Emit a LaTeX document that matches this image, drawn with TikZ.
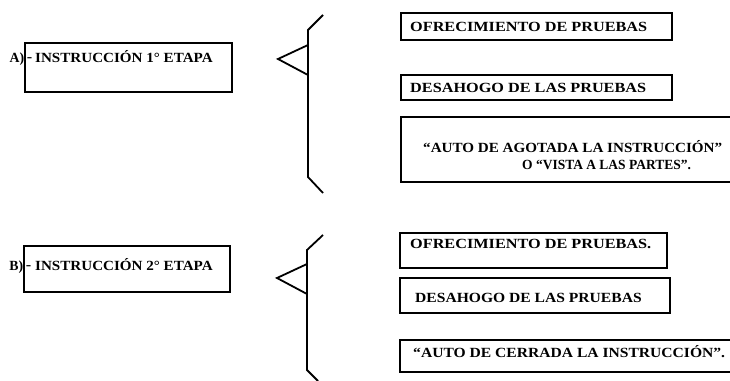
\documentclass[tikz,border=0pt]{standalone}
\usepackage{fontspec}
\setmainfont{Liberation Serif}[FakeStretch=1.16]
\newcommand{\sxx}[2]{\scalebox{#1}[1]{#2}}
\begin{document}
\begin{tikzpicture}[x=1pt,y=-1pt,
  box/.style={draw,line width=1.3pt},
  brk/.style={draw,line width=1.8pt,line join=miter},
  txt/.style={inner sep=0pt,anchor=west,font=\fontsize{14}{16}\selectfont\bfseries},
  lbl/.style={inner sep=0pt,anchor=east,font=\fontsize{14}{16}\selectfont\bfseries},
  dsh/.style={inner sep=0pt,font=\fontsize{14}{16}\selectfont\bfseries}]
\useasboundingbox (0,0) rectangle (730,380);
% ---------- A ----------
\draw[box] (25,43) rectangle (232,92);
\node[lbl] (la) at (24.5,59) {\sxx{0.85}{A)}};
\node[dsh] (da) at (29.5,59.5) {-};
\node[txt] (ta) at (35,57) {\sxx{0.93}{INSTRUCCIÓN 1° ETAPA}};
\draw[brk] (278,59) -- (308,45) -- (308,75) -- cycle;
\draw[brk] (323,15) -- (308,30) -- (308,177) -- (323,193);
\draw[box] (401,13) rectangle (672,40);
\node[txt] (a1) at (410,27) {OFRECIMIENTO DE PRUEBAS};
\draw[box] (401,75) rectangle (672,100);
\node[txt] (a2) at (410,87.5) {DESAHOGO DE LAS PRUEBAS};
\draw[box] (731,117) -- (401,117) -- (401,182) -- (731,182);
\node[txt] (a3) at (423,147) {\sxx{0.93}{“AUTO DE AGOTADA LA INSTRUCCIÓN”}};
\node[txt] (a4) at (522,165) {\sxx{0.83}{O “VISTA A LAS PARTES”.}};
% ---------- B ----------
\draw[box] (24,246) rectangle (230,292);
\node[lbl] (lb) at (23.5,267) {\sxx{0.85}{B)}};
\node[dsh] (db) at (28.5,267.5) {-};
\node[txt] (tb) at (35,265) {\sxx{0.93}{INSTRUCCIÓN 2° ETAPA}};
\draw[brk] (277,278) -- (307,264) -- (307,294) -- cycle;
\draw[brk] (323,235) -- (307,250) -- (307,370) -- (318,381);
\draw[box] (400,233) rectangle (667,268);
\node[txt] (b1) at (410,244) {OFRECIMIENTO DE PRUEBAS.};
\draw[box] (400,278) rectangle (670,313);
\node[txt] (b2) at (415,298) {\sxx{0.96}{DESAHOGO DE LAS PRUEBAS}};
\draw[box] (731,340) -- (400,340) -- (400,372) -- (731,372);
\node[txt] (b3) at (413,352) {\sxx{0.96}{“AUTO DE CERRADA LA INSTRUCCIÓN”.}};
\end{tikzpicture}
\end{document}
